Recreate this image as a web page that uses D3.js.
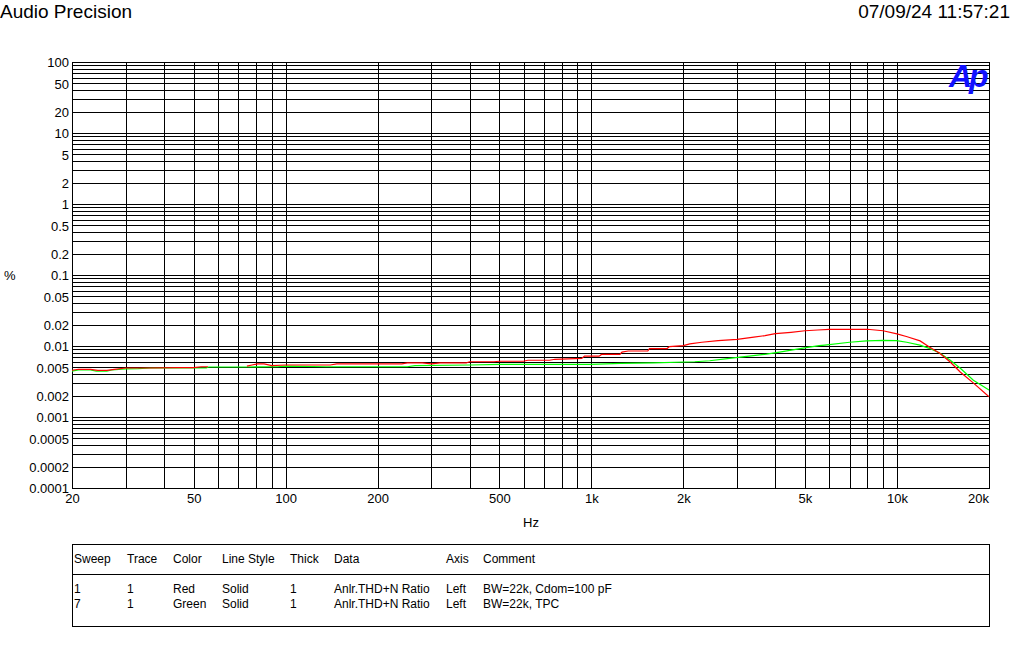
<!DOCTYPE html>
<html>
<head>
<meta charset="utf-8">
<script src="https://cdn.jsdelivr.net/npm/d3@7"></script>
<style>
  html, body { margin: 0; padding: 0; background: #fff; }
  svg { display: block; }
  text { font-family: "Liberation Sans", Arial, sans-serif; fill: #000; }
</style>
</head>
<body>
<svg id="chart" width="1012" height="651"></svg>
<script>
// ---------- data ----------
const titleLeft = "Audio Precision";
const titleRight = "07/09/24 11:57:21";
const yUnit = "%";
const xUnit = "Hz";

const yTickValues = [100, 50, 20, 10, 5, 2, 1, 0.5, 0.2, 0.1, 0.05, 0.02, 0.01, 0.005, 0.002, 0.001, 0.0005, 0.0002, 0.0001];
const yTickLabels = ["100", "50", "20", "10", "5", "2", "1", "0.5", "0.2", "0.1", "0.05", "0.02", "0.01", "0.005", "0.002", "0.001", "0.0005", "0.0002", "0.0001"];
const xTickValues = [20, 50, 100, 200, 500, 1000, 2000, 5000, 10000, 20000];
const xTickLabels = ["20", "50", "100", "200", "500", "1k", "2k", "5k", "10k", "20k"];

// Red trace (Sweep 1), null marks the gap in the data
const redFreq = [20, 21, 23, 24.3, 26, 27.5, 30, 36, 45, 50, 53, 55.7, null,
  74.7, 77.6, 81, 85, 90, 100, 140, 147, 240, 250, 280, 300, 320, 390, 400, 480, 500, 600, 620, 730, 760, 930, 950, 1060,
  1080, 1240, 1260, 1320, 1530, 1550, 1770, 1800, 2000, 2100, 2300, 2600, 3000, 3400, 3700, 4000, 4500, 5000, 5500, 6000,
  8000, 9000, 10000, 10800, 11900, 12800, 13800, 14900, 16100, 17800, 20000];
const redVal = [0.00455, 0.0047, 0.0047, 0.00455, 0.00455, 0.0047, 0.0049, 0.0049, 0.00495, 0.00495, 0.0051, 0.0051, null,
  0.0052, 0.0054, 0.0056, 0.0056, 0.0053, 0.0054, 0.0054, 0.0056, 0.0056, 0.0058, 0.0058, 0.0056, 0.0058, 0.0058, 0.006, 0.006, 0.0061, 0.0061, 0.0063, 0.0063, 0.0065, 0.0067, 0.0072, 0.0072,
  0.0076, 0.0076, 0.0082, 0.0085, 0.0085, 0.0092, 0.0092, 0.0098, 0.0101, 0.0107, 0.0113, 0.0119, 0.0124, 0.0133, 0.014, 0.0149, 0.0156, 0.0164, 0.0168, 0.0172,
  0.0172, 0.0164, 0.0148, 0.0135, 0.0118, 0.0096, 0.0079, 0.006, 0.0043, 0.003, 0.00193];

// Green trace (Sweep 7)
const greenFreq = [20, 21, 23, 24, 26, 27, 30, 33, 36, 55, 56, 75, 94, 100, 136, 250, 265, 400, 500, 1000, 1250, 1600,
  2180, 2440, 2830, 3280, 3740, 4130, 4560, 5040, 5560, 5810, 7000, 7960, 9020, 9980, 10760, 11890, 12820, 13830, 14900,
  16080, 17780, 20000];
const greenVal = [0.00444, 0.00459, 0.00459, 0.00444, 0.00444, 0.00459, 0.00475, 0.0048, 0.0049, 0.0049, 0.00506, 0.00506, 0.0051, 0.0052, 0.0051, 0.0051, 0.0053, 0.0054, 0.0055, 0.0055, 0.0057, 0.0058,
  0.006, 0.0062, 0.0067, 0.0072, 0.0077, 0.0082, 0.0088, 0.0095, 0.0101, 0.0103, 0.0113, 0.0118, 0.012, 0.0119, 0.0113, 0.0103, 0.0092, 0.0079, 0.00635,
  0.0049, 0.0033, 0.0024];

const legendHeaders = ["Sweep", "Trace", "Color", "Line Style", "Thick", "Data", "Axis", "Comment"];
const legendRow1 = ["1", "1", "Red", "Solid", "1", "Anlr.THD+N Ratio", "Left", "BW=22k, Cdom=100 pF"];
const legendRow2 = ["7", "1", "Green", "Solid", "1", "Anlr.THD+N Ratio", "Left", "BW=22k, TPC"];

// ---------- layout ----------
const L = 72, R = 989, T = 62, B = 488;
const svg = d3.select("#chart");

const x = d3.scaleLog().domain([20, 20000]).range([L, R]);
const y = d3.scaleLog().domain([0.0001, 100]).range([B, T]);

// grid values (1..9 per decade)
const xGrid = [];
for (let d = 10; d <= 10000; d *= 10) for (let m = 1; m <= 9; m++) { const v = d * m; if (v >= 20 && v <= 20000) xGrid.push(v); }
xGrid.push(20000);
const yGrid = [];
for (let e = -4; e <= 2; e++) for (let m = 1; m <= 9; m++) { const v = +(m * Math.pow(10, e)).toPrecision(3); if (v >= 0.0001 && v <= 100) yGrid.push(v); }

const grid = svg.append("g").attr("shape-rendering", "crispEdges").attr("stroke", "#000").attr("stroke-width", 1);
grid.selectAll("line.h").data(yGrid).join("line").attr("class", "h")
  .attr("x1", L).attr("x2", R)
  .attr("y1", d => Math.round(y(d)) + 0.5).attr("y2", d => Math.round(y(d)) + 0.5);
grid.selectAll("line.v").data(xGrid).join("line").attr("class", "v")
  .attr("y1", T).attr("y2", B + 1)
  .attr("x1", d => Math.round(x(d)) + 0.5).attr("x2", d => Math.round(x(d)) + 0.5);
grid.append("line").attr("x1", L + 0.5).attr("x2", L + 0.5).attr("y1", T).attr("y2", B + 1);
grid.append("line").attr("x1", L).attr("x2", R + 1).attr("y1", B + 0.5).attr("y2", B + 0.5);

// axes labels via d3 axes
const yAxis = d3.axisLeft(y).tickValues(yTickValues).tickSize(0).tickPadding(3)
  .tickFormat((d, i) => yTickLabels[i]);
const gy = svg.append("g").attr("transform", `translate(${L},0)`).call(yAxis);
gy.select(".domain").remove();
gy.selectAll("text").attr("font-size", 13).attr("font-family", "Liberation Sans, Arial, sans-serif").attr("fill", "#000").attr("dy", "0.38em");

const xAxis = d3.axisBottom(x).tickValues(xTickValues).tickSize(0).tickPadding(6)
  .tickFormat((d, i) => xTickLabels[i]);
const gx = svg.append("g").attr("transform", `translate(0,${B})`).call(xAxis);
gx.select(".domain").remove();
gx.selectAll("text").attr("font-size", 13).attr("font-family", "Liberation Sans, Arial, sans-serif").attr("fill", "#000");
gx.selectAll(".tick").filter((d, i) => i === xTickValues.length - 1).select("text").attr("dx", -11);

// traces
const line = d3.line().defined(d => d[0] != null && d[1] != null).x(d => x(d[0])).y(d => y(d[1]));
const redData = redFreq.map((f, i) => [f, redVal[i]]);
const greenData = greenFreq.map((f, i) => [f, greenVal[i]]);
svg.append("path").datum(greenData).attr("d", line).attr("fill", "none").attr("stroke", "#00ff00").attr("stroke-width", 1.2);
svg.append("path").datum(redData).attr("d", line).attr("fill", "none").attr("stroke", "#ff0000").attr("stroke-width", 1.2);

// titles
svg.append("text").attr("x", 0).attr("y", 18).attr("font-size", 19).text(titleLeft);
svg.append("text").attr("x", 1010).attr("y", 18).attr("font-size", 19).attr("text-anchor", "end").text(titleRight);
svg.append("text").attr("x", 4).attr("y", 280).attr("font-size", 13).text(yUnit);
svg.append("text").attr("x", 531).attr("y", 527).attr("font-size", 13).attr("text-anchor", "middle").text(xUnit);

// Ap logo
svg.append("text").attr("x", 949).attr("y", 87).attr("font-size", 32).attr("font-weight", "bold")
  .attr("font-style", "italic").attr("letter-spacing", -3).style("fill", "#1010ff").text("Ap");

// legend table
const lg = svg.append("g");
lg.append("rect").attr("x", 72.5).attr("y", 544.5).attr("width", 917).attr("height", 82)
  .attr("fill", "none").attr("stroke", "#000").attr("shape-rendering", "crispEdges");
lg.append("line").attr("x1", 72).attr("x2", 990).attr("y1", 574.5).attr("y2", 574.5)
  .attr("stroke", "#000").attr("shape-rendering", "crispEdges");
const colX = [74, 127, 173, 222, 290, 334, 446, 483];
[[legendHeaders, 563], [legendRow1, 593], [legendRow2, 608]].forEach(([row, yy]) => {
  lg.selectAll(null).data(row).join("text")
    .attr("x", (d, i) => colX[i]).attr("y", yy).attr("font-size", 12).text(d => d);
});
</script>
</body>
</html>
